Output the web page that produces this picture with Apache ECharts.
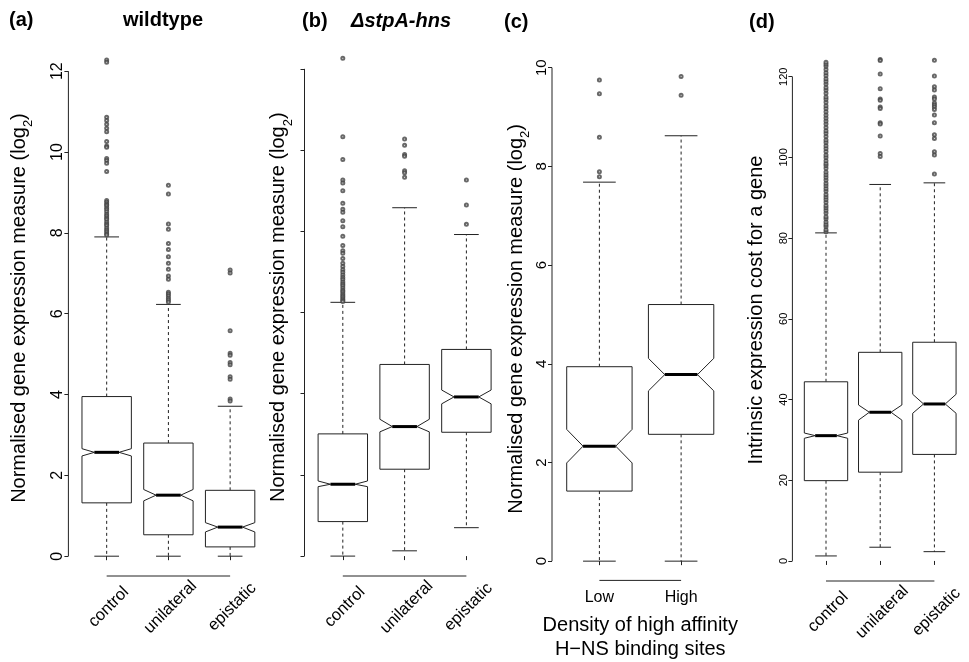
<!DOCTYPE html>
<html><head><meta charset="utf-8">
<script src="https://cdn.jsdelivr.net/npm/echarts@6/dist/echarts.min.js"></script>
<style>html,body{margin:0;padding:0;background:#fff}#c{width:969px;height:662px}</style>
</head><body><div id="c"></div>
<script>
const FONT = '"Liberation Sans", Arial, Helvetica, sans-serif';

// ---------- data ----------
const geneClasses = ['control', 'unilateral', 'epistatic'];
const densityClasses = ['Low', 'High'];

const yTicksExpr = [0, 2, 4, 6, 8, 10, 12];
const yTicksC = [0, 2, 4, 6, 8, 10];
const yTicksD = [0, 20, 40, 60, 80, 100, 120];

// box stats: [lower whisker, Q1, notch low, median, notch high, Q3, upper whisker]
const wildtypeBoxes = [
  [0, 1.32, 2.48, 2.57, 2.66, 3.95, 7.90],
  [0, 0.53, 1.37, 1.51, 1.65, 2.80, 6.23],
  [0, 0.23, 0.60, 0.72, 0.83, 1.63, 3.71]
];
const wildtypeOutControl = [12.28, 12.22, 10.86, 10.78, 10.69, 10.59, 10.50, 10.26, 10.15, 10.12, 9.84, 9.79, 9.72, 9.52,
  8.80, 8.76, 8.71, 8.68, 8.62, 8.58, 8.52, 8.46, 8.42, 8.37, 8.33, 8.27, 8.22, 8.18, 8.12, 8.07, 8.03, 7.98, 7.95];
const wildtypeOutUnilateral = [9.18, 8.96, 8.22, 8.09, 7.74, 7.59, 7.41, 7.25, 7.10, 6.93, 6.85, 6.53, 6.49, 6.44, 6.38, 6.34, 6.29];
const wildtypeOutEpistatic = [7.08, 7.01, 5.58, 5.02, 4.97, 4.79, 4.74, 4.44, 4.38, 3.89, 3.84];

const mutantBoxes = [
  [0, 0.85, 1.71, 1.77, 1.85, 3.01, 6.25],
  [0.13, 2.14, 3.06, 3.19, 3.37, 4.72, 8.58],
  [0.70, 3.05, 3.75, 3.92, 4.09, 5.09, 7.92]
];
const mutantOutControl = [12.26, 10.33, 9.77, 9.26, 9.19, 9.00, 8.69, 8.54, 8.47, 8.26, 8.11, 7.88, 7.65, 7.52, 7.46, 7.33,
  7.21, 7.13, 7.05, 6.99, 6.92, 6.86, 6.81, 6.75, 6.70, 6.66, 6.60, 6.55, 6.51, 6.46, 6.42, 6.38, 6.34, 6.30, 6.27];
const mutantOutUnilateral = [10.27, 10.12, 9.89, 9.85, 9.49, 9.44, 9.33];
const mutantOutEpistatic = [9.26, 8.65, 8.17];

const densityBoxes = [
  [0, 1.42, 1.99, 2.33, 2.67, 3.94, 7.68],
  [0, 2.57, 3.45, 3.78, 4.11, 5.20, 8.62]
];
const densityOutLow = [9.75, 9.47, 8.59, 7.89, 7.79];
const densityOutHigh = [9.82, 9.44];

const costBoxes = [
  [1.24, 19.9, 30.4, 31.05, 31.7, 44.4, 81.3],
  [3.4, 22.0, 34.9, 36.85, 38.65, 51.7, 93.3],
  [2.3, 26.4, 36.6, 38.9, 41.3, 54.2, 93.7]
];
const costOutControl = [81.6, 82.1, 82.9, 83.4, 84.0, 84.8, 85.3, 86.2, 86.9, 87.5, 88.1, 88.9, 89.6, 90.2, 90.8, 91.7, 92.3,
  93.0, 93.6, 94.4, 95.1, 95.7, 96.4, 97.3, 98.0, 98.5, 99.2, 100.0, 100.6, 101.5, 102.2, 102.9, 103.7, 104.3, 105.2, 106.0,
  106.6, 107.4, 108.3, 109.0, 109.8, 110.5, 111.3, 112.1, 112.8, 113.7, 114.4, 115.0, 115.9, 116.7, 117.3, 118.2, 118.9,
  119.5, 120.3, 121.0, 121.8, 122.6, 123.1, 123.6];
const costOutUnilateral = [124.3, 124.0, 120.7, 117.0, 114.5, 114.2, 112.5, 112.1, 108.6, 108.3, 105.3, 101.0, 100.2];
const costOutEpistatic = [124.1, 120.2, 117.5, 116.7, 115.0, 114.5, 113.5, 113.0, 112.5, 111.9, 110.5, 108.6, 105.6, 104.7, 101.4, 100.6, 95.9];

// ---------- layout ----------
const panels = [
  { grid: { left: 68.4, top: 40.1, width: 200, height: 535.9 }, x: [0.38, 3.62], y: [-0.49, 12.77],
    cats: geneClasses, boxes: wildtypeBoxes, outs: [wildtypeOutControl, wildtypeOutUnilateral, wildtypeOutEpistatic],
    ticks: yTicksExpr, showLabels: true, labelSize: 16, name: 'expr', nameGap: 33 },
  { grid: { left: 304.5, top: 38.4, width: 200.2, height: 537.6 }, x: [0.38, 3.62], y: [-0.49, 12.75],
    cats: geneClasses, boxes: mutantBoxes, outs: [mutantOutControl, mutantOutUnilateral, mutantOutEpistatic],
    ticks: yTicksExpr, showLabels: false, labelSize: 16, name: 'expr', nameGap: 10 },
  { grid: { left: 552, top: 57.3, width: 176.5, height: 523.1 }, x: [0.42, 2.58], y: [-0.39, 10.21],
    cats: densityClasses, boxes: densityBoxes, outs: [densityOutLow, densityOutHigh],
    ticks: yTicksC, showLabels: true, labelSize: 15, name: 'expr', nameGap: 20 },
  { grid: { left: 792.4, top: 39.2, width: 175.6, height: 541.8 }, x: [0.38, 3.62], y: [-4.97, 129.3],
    cats: geneClasses, boxes: costBoxes, outs: [costOutControl, costOutUnilateral, costOutEpistatic],
    ticks: yTicksD, showLabels: true, labelSize: 11, name: 'cost', nameGap: 26 }
];

const LINE = '#222';

function renderBox(params, api) {
  const x = api.value(0);
  const low = api.value(1), q1 = api.value(2), nlo = api.value(3), med = api.value(4),
        nhi = api.value(5), q3 = api.value(6), hi = api.value(7);
  const w = 0.4, sw = 0.2;
  const P = (a, b) => api.coord([a, b]);
  const pts = [P(x - w, q3), P(x + w, q3), P(x + w, nhi), P(x + w / 2, med), P(x + w, nlo), P(x + w, q1),
               P(x - w, q1), P(x - w, nlo), P(x - w / 2, med), P(x - w, nhi)];
  const seg = (p1, p2, extra) => ({ type: 'line', shape: { x1: p1[0], y1: p1[1], x2: p2[0], y2: p2[1] },
    style: Object.assign({ stroke: LINE, lineWidth: 1, fill: null }, extra || {}) });
  return { type: 'group', children: [
    seg(P(x, q3), P(x, hi), { lineDash: [3, 3] }),
    seg(P(x, q1), P(x, low), { lineDash: [3, 3] }),
    seg(P(x - sw, hi), P(x + sw, hi)),
    seg(P(x - sw, low), P(x + sw, low)),
    { type: 'polygon', shape: { points: pts }, style: { fill: '#fff', stroke: LINE, lineWidth: 1 } },
    seg(P(x - w / 2, med), P(x + w / 2, med), { lineWidth: 3, stroke: '#000' })
  ] };
}

function renderAxes(params, api) {
  const xMin = api.value(0), t0 = api.value(1), t1 = api.value(2), c0 = api.value(3), c1 = api.value(4), yMin = api.value(5);
  const a = api.coord([xMin, t0]), b = api.coord([xMin, t1]);
  const c = api.coord([c0, yMin]), d = api.coord([c1, yMin]);
  return { type: 'group', children: [
    { type: 'line', shape: { x1: a[0], y1: a[1], x2: b[0], y2: b[1] }, style: { stroke: LINE, lineWidth: 1 } },
    { type: 'line', shape: { x1: c[0], y1: c[1], x2: d[0], y2: d[1] }, style: { stroke: LINE, lineWidth: 1 } }
  ] };
}

function makeXLabelRenderer(cats) {
  return function (params, api) {
    const p = api.coord([api.value(0), api.value(1)]);
    return { type: 'text', x: p[0] + 2, y: p[1] + 31, rotation: Math.PI / 4,
      style: { text: cats[params.dataIndex], font: '16.5px ' + FONT, fill: '#000',
               align: 'center', textAlign: 'center', verticalAlign: 'middle', textVerticalAlign: 'middle' } };
  };
}

const exprName = '{m|Normalised gene expression measure (log}{s|2}{m|)}';
const exprRich = {
  m: { fontSize: 20, fontFamily: FONT, color: '#000', lineHeight: 26, verticalAlign: 'top' },
  s: { fontSize: 13, fontFamily: FONT, color: '#000', lineHeight: 13, verticalAlign: 'bottom' }
};

const grids = [], xAxes = [], yAxes = [], series = [];
panels.forEach((pn, i) => {
  grids.push(Object.assign({ containLabel: false, outerBoundsMode: 'none' }, pn.grid));
  const n = pn.cats.length;
  const catIdx = pn.cats.map((c, k) => k + 1);
  const isC = (pn.cats === densityClasses);
  xAxes.push({
    gridIndex: i, type: 'value', min: pn.x[0], max: pn.x[1],
    axisLine: { show: false }, splitLine: { show: false },
    axisTick: { show: true, customValues: catIdx, length: 4, lineStyle: { color: LINE } },
    axisLabel: isC ? { show: true, customValues: catIdx, formatter: v => pn.cats[Math.round(v) - 1],
      fontSize: 16, fontFamily: FONT, color: '#000', margin: 9 } : { show: false },
    name: isC ? 'Density of high affinity\nH\u2212NS binding sites' : '',
    nameLocation: 'middle', nameGap: 33,
    nameTextStyle: { fontSize: 20, lineHeight: 24, fontFamily: FONT, color: '#000' }
  });
  yAxes.push({
    gridIndex: i, type: 'value', min: pn.y[0], max: pn.y[1],
    axisLine: { show: false }, splitLine: { show: false },
    axisTick: { show: true, customValues: pn.ticks, length: 4, lineStyle: { color: LINE } },
    axisLabel: { show: pn.showLabels, customValues: pn.ticks, rotate: 90, fontSize: pn.labelSize,
      fontFamily: FONT, color: '#000', margin: 3 },
    name: pn.name === 'expr' ? exprName : 'Intrinsic expression cost for a gene',
    nameLocation: 'middle', nameRotate: 90, nameGap: pn.nameGap,
    nameTextStyle: pn.name === 'expr' ? { rich: exprRich } :
      { fontSize: 20, fontFamily: FONT, color: '#000', lineHeight: 20 }
  });
  series.push({
    type: 'custom', xAxisIndex: i, yAxisIndex: i, clip: false, silent: true, z: 1,
    data: [[pn.x[0], pn.ticks[0], pn.ticks[pn.ticks.length - 1], 1, n, pn.y[0]]],
    renderItem: renderAxes
  });
  series.push({
    type: 'custom', xAxisIndex: i, yAxisIndex: i, clip: false, silent: true, z: 2,
    data: pn.boxes.map((b, k) => [k + 1].concat(b)),
    renderItem: renderBox
  });
  const outData = [];
  pn.outs.forEach((arr, k) => arr.forEach(v => outData.push([k + 1, v])));
  series.push({
    type: 'scatter', xAxisIndex: i, yAxisIndex: i, silent: true, z: 3,
    symbol: 'emptyCircle', symbolSize: 3, data: outData,
    itemStyle: { color: '#444', borderWidth: 0.6 }
  });
  if (!isC) {
    series.push({
      type: 'custom', xAxisIndex: i, yAxisIndex: i, clip: false, silent: true, z: 2,
      data: pn.cats.map((c, k) => [k + 1, pn.y[0]]),
      renderItem: makeXLabelRenderer(pn.cats)
    });
  }
});

const tStyle = { fontSize: 20, fontWeight: 'bold', fontFamily: FONT, color: '#000' };
const titles = [
  { text: '(a)', left: 9, top: 10 },
  { text: 'wildtype', left: 123, top: 10 },
  { text: '(b)', left: 302, top: 11 },
  { text: '\u0394stpA-hns', left: 351, top: 11, italic: true },
  { text: '(c)', left: 504, top: 12 },
  { text: '(d)', left: 749, top: 12 }
].map(t => ({ text: t.text, left: t.left, top: t.top, padding: 0,
  textStyle: Object.assign({}, tStyle, t.italic ? { fontStyle: 'italic' } : {}) }));

const chart = echarts.init(document.getElementById('c'), null, { renderer: 'canvas' });
chart.setOption({
  animation: false,
  backgroundColor: '#fff',
  title: titles,
  grid: grids, xAxis: xAxes, yAxis: yAxes, series: series
});
</script></body></html>
